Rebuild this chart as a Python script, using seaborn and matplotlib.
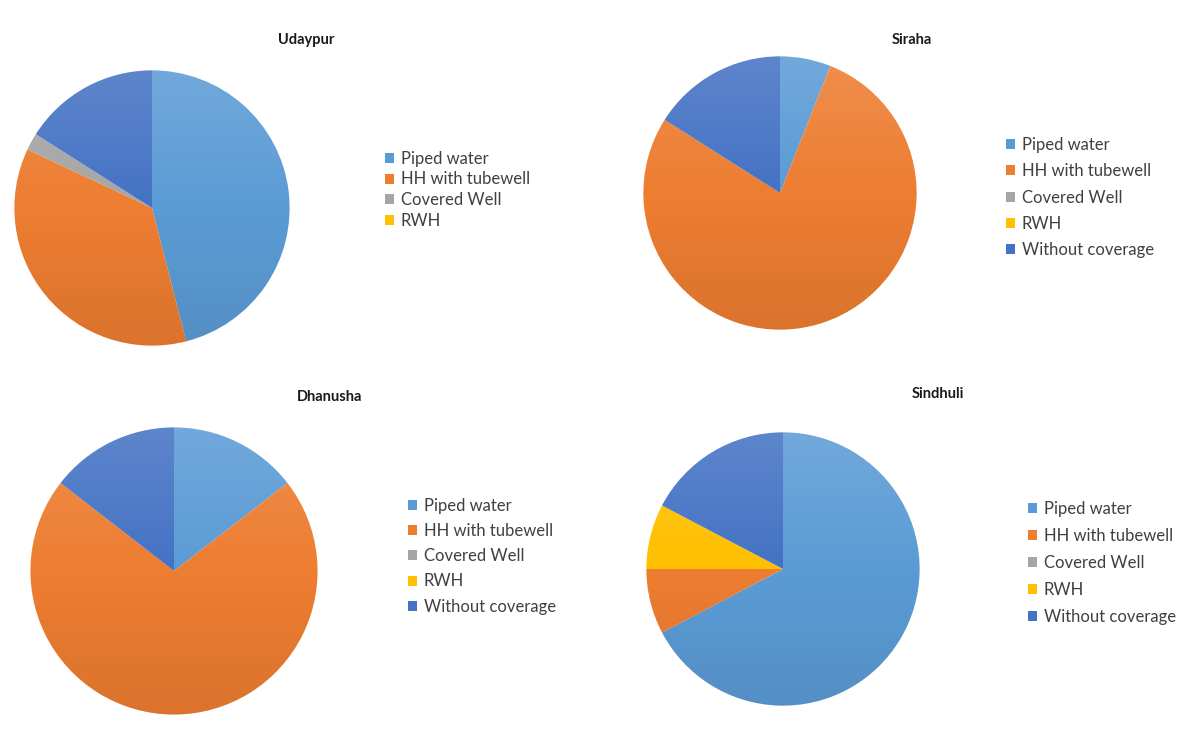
import numpy as np
import matplotlib
matplotlib.use("Agg")
import matplotlib.pyplot as plt
from matplotlib.patches import Patch, Circle
import seaborn as sns

# water source categories and share (%) per district
categories = ["Piped water", "HH with tubewell", "Covered Well", "RWH", "Without coverage"]
udaypur = [46.0, 36.0, 2.0, 0.0, 16.0]
siraha = [6.0, 78.0, 0.0, 0.0, 16.0]
dhanusha = [14.5, 71.0, 0.0, 0.0, 14.5]
sindhuli = [67.3, 7.7, 0.0, 7.7, 17.3]
districts = ["Udaypur", "Siraha", "Dhanusha", "Sindhuli"]

# Excel office palette
colors = ["#5B9BD5", "#ED7D31", "#A5A5A5", "#FFC000", "#4472C4"]

sns.set_style("white")
plt.rcParams["font.family"] = ["Lato", "DejaVu Sans"]

W, H = 1200, 729
fig = plt.figure(figsize=(W / 100, H / 100), dpi=100)

# layout in pixels: pie centre x, y, radius / title x, y / legend x, y, nrows, spacing
layout = {
    "Udaypur": dict(pie=(152, 208, 139), title=(306, 40), leg=(385, 151), n=4, ls=0.27),
    "Siraha": dict(pie=(780, 193, 138), title=(912, 40), leg=(1006, 137), n=5, ls=0.62),
    "Dhanusha": dict(pie=(174, 571, 145), title=(330, 397), leg=(408, 498), n=5, ls=0.55),
    "Sindhuli": dict(pie=(783, 569, 138), title=(938, 394), leg=(1028, 501), n=5, ls=0.66),
}
values = {"Udaypur": udaypur, "Siraha": siraha, "Dhanusha": dhanusha, "Sindhuli": sindhuli}

# light-top / dark-bottom overlay to mimic the gradient fill
g = np.linspace(0, 1, 256)
overlay = np.zeros((256, 1, 4))
top = g < 0.5
overlay[top, 0, :3] = 1.0
overlay[top, 0, 3] = 0.14 * (1 - g[top] / 0.5)
overlay[~top, 0, :3] = 0.0
overlay[~top, 0, 3] = 0.08 * ((g[~top] - 0.5) / 0.5)

for name in districts:
    cfg = layout[name]
    cx, cy, r = cfg["pie"]
    ax = fig.add_axes([(cx - r) / W, (H - cy - r) / H, 2 * r / W, 2 * r / H])
    ax.pie(values[name], colors=colors, startangle=90, counterclock=False,
           radius=1, wedgeprops=dict(linewidth=0))
    im = ax.imshow(overlay, extent=(-1, 1, -1, 1), aspect="auto", zorder=5)
    circ = Circle((0, 0), 1, transform=ax.transData)
    im.set_clip_path(circ)
    ax.set_xlim(-1.01, 1.01)
    ax.set_ylim(-1.01, 1.01)
    ax.axis("off")

    tx, ty = cfg["title"]
    fig.text(tx / W, 1 - ty / H, name, ha="center", va="center",
             fontsize=10.5, fontweight="bold", color="#1a1a1a")

    n = cfg["n"]
    handles = [Patch(facecolor=colors[i], edgecolor="none") for i in range(n)]
    lx, ly = cfg["leg"]
    fig.legend(handles, categories[:n], loc="upper left",
               bbox_to_anchor=(lx / W, 1 - ly / H), bbox_transform=fig.transFigure,
               frameon=False, fontsize=12.0, handlelength=0.55, handleheight=0.55,
               handletextpad=0.4, labelspacing=cfg["ls"], borderpad=0,
               borderaxespad=0, labelcolor="#404040")

fig.savefig("out.png", dpi=100, facecolor="white")
